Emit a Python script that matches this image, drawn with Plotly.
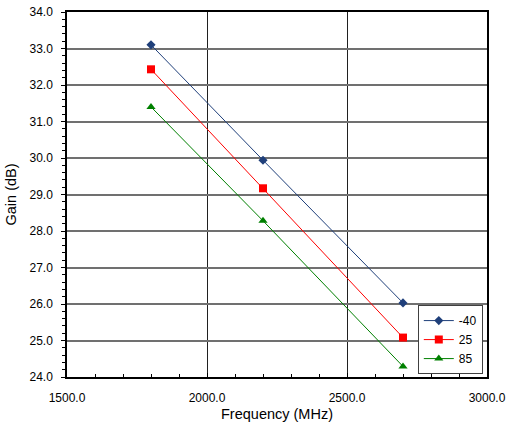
import plotly.graph_objects as go

freq = [1800, 2200, 2700]
gain_m40 = [33.10, 29.94, 26.03]
gain_25 = [32.43, 29.17, 25.08]
gain_85 = [31.40, 28.28, 24.29]
series_names = ["-40", "25", "85"]
colors = ["#1F3F7A", "#FF0000", "#008000"]
symbols = ["diamond", "square", "triangle-up"]
sizes = [7, 8, 8]

fig = go.Figure()
for name, ys, c, s, sz in zip(series_names, [gain_m40, gain_25, gain_85], colors, symbols, sizes):
    fig.add_trace(go.Scatter(x=freq, y=ys, mode="lines+markers", name=name,
                             line=dict(color=c, width=1),
                             marker=dict(symbol=s, size=sz, color=c)))

fig.update_layout(
    width=507, height=427,
    margin=dict(l=67, r=20, t=12, b=50),
    paper_bgcolor="white", plot_bgcolor="white",
    font=dict(family="Liberation Sans, Arial", size=12, color="black"),
    showlegend=True,
    legend=dict(x=0.99, y=0.008, xanchor="right", yanchor="bottom",
                bordercolor="#404040", borderwidth=1, bgcolor="white",
                font=dict(size=12), itemwidth=30, tracegroupgap=0),
)
fig.update_xaxes(range=[1500, 3000], tickvals=[1500, 2000, 2500, 3000],
                 tickformat=".1f", showgrid=True, gridcolor="#202020", gridwidth=1,
                 showline=True, linecolor="black", linewidth=1.5, mirror=True,
                 ticks="inside", ticklen=4, tickcolor="black", ticklabelstandoff=9,
                 minor=dict(dtick=100, ticks="inside", ticklen=3, tickcolor="black", showgrid=False),
                 title=dict(text="Frequency (MHz)", font=dict(size=14.5), standoff=5),
                 automargin=False, zeroline=False)
fig.update_yaxes(range=[24, 34], dtick=1, tickformat=".1f", showgrid=True,
                 gridcolor="#707070", gridwidth=1.5,
                 showline=True, linecolor="black", linewidth=1.5, mirror=True,
                 ticks="outside", ticklen=4, tickcolor="black", ticklabelstandoff=6,
                 minor=dict(dtick=0.2, ticks="outside", ticklen=3, tickcolor="black", showgrid=False),
                 title=dict(text="Gain (dB)", font=dict(size=14.5), standoff=9),
                 automargin=False, zeroline=False)

fig.write_html("out.html")
